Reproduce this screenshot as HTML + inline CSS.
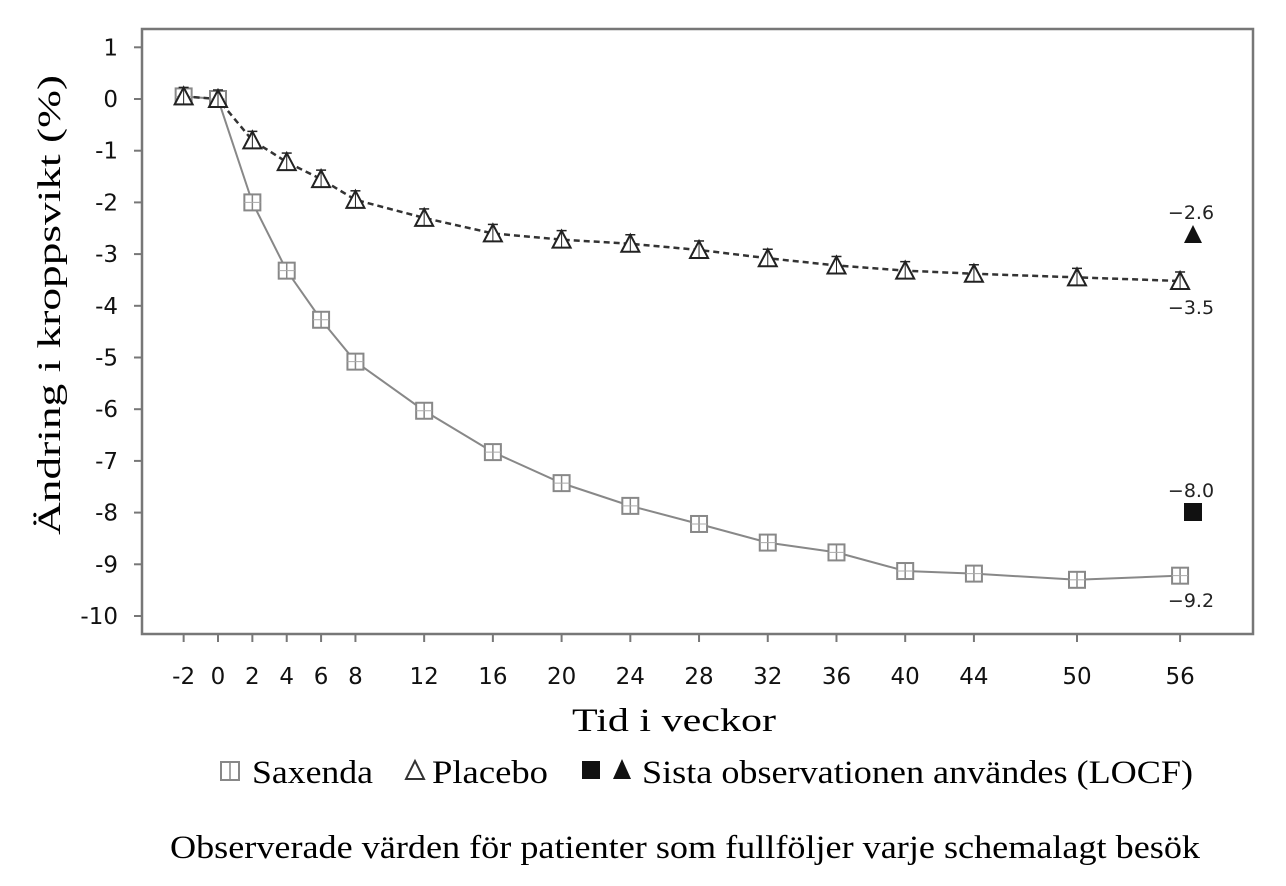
<!DOCTYPE html>
<html><head><meta charset="utf-8"><style>
html,body{margin:0;padding:0;background:#fff;}
svg{display:block;}
</style></head><body>
<svg id="s" width="1286" height="886" xmlns="http://www.w3.org/2000/svg">
<rect x="142" y="29" width="1111" height="605" fill="none" stroke="#777" stroke-width="2.5"/>
<g id="ax" font-family="DejaVu Sans, sans-serif" font-size="23" fill="#111"></g>
<g id="d"></g>
<g font-family="Liberation Serif, serif" font-size="33" fill="#000">
<text x="0" y="0" transform="translate(60 305) rotate(-90)" text-anchor="middle" textLength="460" lengthAdjust="spacingAndGlyphs">Ändring i kroppsvikt (%)</text>
<text x="572" y="731" textLength="204" lengthAdjust="spacingAndGlyphs">Tid i veckor</text>
<rect x="221" y="762" width="18" height="18" fill="none" stroke="#888" stroke-width="2"/>
<line x1="230" y1="762" x2="230" y2="780" stroke="#888" stroke-width="1.5"/>
<text x="252" y="783" textLength="121" lengthAdjust="spacingAndGlyphs">Saxenda</text>
<polygon points="415,761 406,779 424,779" fill="none" stroke="#333" stroke-width="2"/>
<text x="432" y="783" textLength="116" lengthAdjust="spacingAndGlyphs">Placebo</text>
<rect x="582" y="761" width="18" height="18" fill="#111"/>
<polygon points="622,759 613,779 631,779" fill="#111"/>
<text x="642" y="783" textLength="551" lengthAdjust="spacingAndGlyphs">Sista observationen användes (LOCF)</text>
<text x="170" y="858" textLength="1030" lengthAdjust="spacingAndGlyphs">Observerade värden för patienter som fullföljer varje schemalagt besök</text>
</g>
</svg>
<script>
var NS="http://www.w3.org/2000/svg";
function X(w){return 218+w*17.18;}
function Y(v){return 99-51.7*v;}
function el(p,t,a,txt){var e=document.createElementNS(NS,t);for(var k in a)e.setAttribute(k,a[k]);if(txt!=null)e.textContent=txt;p.appendChild(e);return e;}
var ax=document.getElementById('ax'),d=document.getElementById('d');
for(var v=1;v>=-10;v--){el(ax,'line',{x1:134,x2:142,y1:Y(v),y2:Y(v),stroke:'#777','stroke-width':2});
el(ax,'text',{x:118,y:Y(v)+8,'text-anchor':'end'},v<0?'-'+(-v):String(v));}
var W=[-2,0,2,4,6,8,12,16,20,24,28,32,36,40,44,50,56];
W.forEach(function(w){el(ax,'line',{x1:X(w),x2:X(w),y1:634,y2:642,stroke:'#777','stroke-width':2});
el(ax,'text',{x:X(w),y:684,'text-anchor':'middle'},w<0?'-'+(-w):String(w));});
var P=[0.05,0,-0.8,-1.22,-1.55,-1.95,-2.3,-2.6,-2.72,-2.8,-2.92,-3.08,-3.22,-3.32,-3.38,-3.45,-3.52];
var S=[0.05,0,-2,-3.32,-4.27,-5.08,-6.03,-6.83,-7.43,-7.87,-8.22,-8.58,-8.77,-9.13,-9.18,-9.3,-9.22];
el(d,'polyline',{points:W.map(function(w,i){return X(w)+','+Y(S[i]);}).join(' '),fill:'none',stroke:'#888','stroke-width':2});
el(d,'polyline',{points:W.map(function(w,i){return X(w)+','+Y(P[i]);}).join(' '),fill:'none',stroke:'#333','stroke-width':2.5,'stroke-dasharray':'6,4'});
W.forEach(function(w,i){var x=X(w),y=Y(S[i]);
el(d,'rect',{x:x-8,y:y-8,width:16,height:16,fill:'#fff',stroke:'#888','stroke-width':2});
el(d,'line',{x1:x,x2:x,y1:y-8,y2:y+8,stroke:'#888','stroke-width':1.5});
el(d,'line',{x1:x-8,x2:x+8,y1:y,y2:y,stroke:'#aaa','stroke-width':1});});
W.forEach(function(w,i){var x=X(w),y=Y(P[i]);
el(d,'polygon',{points:(x)+','+(y-9)+' '+(x-9)+','+(y+8)+' '+(x+9)+','+(y+8),fill:'#fff',stroke:'#222','stroke-width':2});
el(d,'line',{x1:x,x2:x,y1:y-9,y2:y+8,stroke:'#222','stroke-width':1});
el(d,'line',{x1:x-5,x2:x+5,y1:y-9,y2:y-9,stroke:'#222','stroke-width':1.5});});
el(d,'polygon',{points:'1193,225 1184,243 1202,243',fill:'#111'});
el(d,'rect',{x:1184,y:503,width:18,height:18,fill:'#111'});
var f={'font-family':'DejaVu Sans, sans-serif','font-size':19,fill:'#222','text-anchor':'middle'};
function lab(x,y,t){var a=Object.assign({},f);a.x=x;a.y=y;el(d,'text',a,t);}
lab(1191,219,'−2.6');lab(1191,314,'−3.5');lab(1191,497,'−8.0');lab(1191,607,'−9.2');
</script>
</body></html>
